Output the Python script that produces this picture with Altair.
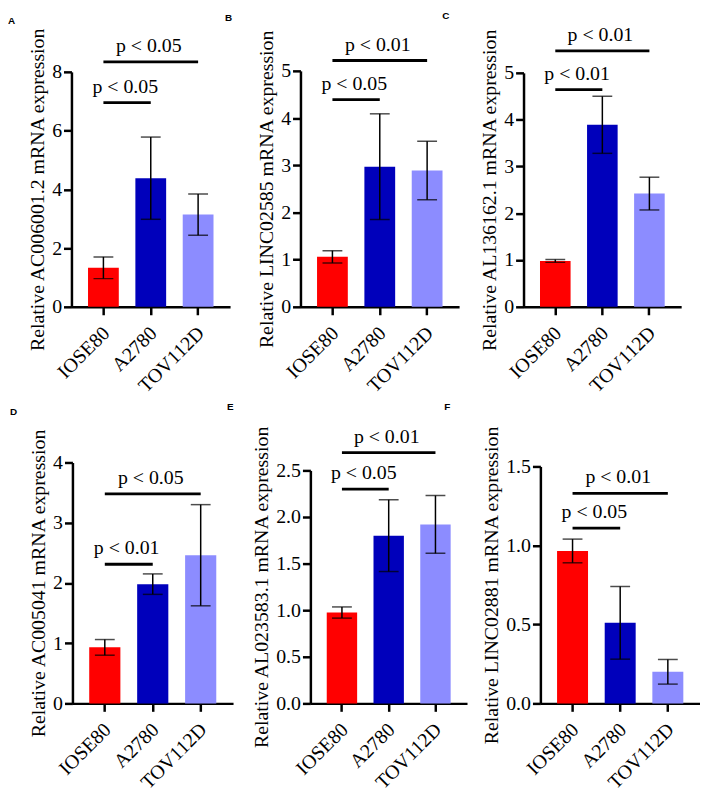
import altair as alt
import pandas as pd

# ---------------- data ----------------
categories = ["IOSE80", "A2780", "TOV112D"]
bar_colors = ["#FF0000", "#0000BB", "#8C8CFF"]

panel_letters = ["A", "B", "C", "D", "E", "F"]
gene_names = ["AC006001.2", "LINC02585", "AL136162.1", "AC005041", "AL023583.1", "LINC02881"]

mean_A = [1.33, 4.38, 3.14]
err_A = [0.37, 1.40, 0.70]
mean_B = [1.06, 2.97, 2.89]
err_B = [0.13, 1.12, 0.62]
mean_C = [0.98, 3.89, 2.42]
err_C = [0.03, 0.61, 0.35]
mean_D = [0.93, 1.98, 2.46]
err_D = [0.13, 0.17, 0.84]
mean_E = [0.975, 1.80, 1.92]
err_E = [0.06, 0.385, 0.31]
mean_F = [0.965, 0.51, 0.20]
err_F = [0.075, 0.23, 0.078]

means = [mean_A, mean_B, mean_C, mean_D, mean_E, mean_F]
errs = [err_A, err_B, err_C, err_D, err_E, err_F]

y_max = [8, 5, 5, 4, 2.5, 1.5]
y_ticks = [
    [0, 2, 4, 6, 8],
    [0, 1, 2, 3, 4, 5],
    [0, 1, 2, 3, 4, 5],
    [0, 1, 2, 3, 4],
    [0, 0.5, 1.0, 1.5, 2.0, 2.5],
    [0, 0.5, 1.0, 1.5],
]
y_formats = ["d", "d", "d", "d", ".1f", ".1f"]

sig_near_y = [6.95, 4.39, 4.64, 2.31, 2.30, 1.11]
sig_far_y = [8.34, 5.22, 5.47, 3.48, 2.69, 1.33]
sig_near_text = ["p < 0.05", "p < 0.05", "p < 0.01", "p < 0.01", "p < 0.05", "p < 0.05"]
sig_far_text = ["p < 0.05", "p < 0.01", "p < 0.01", "p < 0.05", "p < 0.01", "p < 0.01"]

# ---------------- layout (styles) ----------------
SERIF = "Times New Roman, Liberation Serif, serif"
col_widths = [181, 175, 178]
row_heights = [238, 243]
x_ranges = [[0, 160], [0, 160], [0, 159], [1, 163], [10, 168], [17, 178]]
y_axis_offsets = [0, 0, 0, -1, -10, -17]
y_ranges = [[238, 1], [238, 0], [238, 2], [243, 0], [243, 8], [243, 4]]
letter_pos = [(-64, -55), (-76, -58), (-82, -60), (-62, -56), (-74, -61), (-80, -61)]


def make_panel(k):
    mean = means[k]
    err = errs[k]
    df = pd.DataFrame({
        "cell": categories,
        "mean": mean,
        "lo": [m - e for m, e in zip(mean, err)],
        "hi": [m + e for m, e in zip(mean, err)],
    })
    near = pd.DataFrame({"start": [categories[0]], "end": [categories[1]],
                         "level": [sig_near_y[k]], "label": [sig_near_text[k]],
                         "anchor": [categories[0]]})
    far = pd.DataFrame({"start": [categories[0]], "end": [categories[2]],
                        "level": [sig_far_y[k]], "label": [sig_far_text[k]],
                        "anchor": [categories[1]]})

    x_scale = alt.Scale(domain=categories, range=x_ranges[k],
                        paddingInner=0.35, paddingOuter=0.35)
    x_axis = alt.Axis(title=None)
    y_scale = alt.Scale(domain=[0, y_max[k]], range=y_ranges[k], nice=False)
    y_axis = alt.Axis(title=f"Relative {gene_names[k]} mRNA expression",
                      values=y_ticks[k], format=y_formats[k],
                      offset=y_axis_offsets[k])

    def X(f):
        return alt.X(f"{f}:N", scale=x_scale, axis=x_axis)

    def Y(f):
        return alt.Y(f"{f}:Q", scale=y_scale, axis=y_axis)

    base = alt.Chart(df)
    bars = base.mark_bar().encode(
        x=X("cell"), y=Y("mean"),
        color=alt.Color("cell:N", scale=alt.Scale(domain=categories, range=bar_colors), legend=None),
    )
    stem = base.mark_rule(color="black", strokeWidth=1.5).encode(x=X("cell"), y=Y("lo"), y2="hi")
    cap_hi = base.mark_tick(color="black", thickness=1.5, size=20).encode(x=X("cell"), y=Y("hi"))
    cap_lo = base.mark_tick(color="black", thickness=1.5, size=20).encode(x=X("cell"), y=Y("lo"))

    layers = [bars, stem, cap_hi, cap_lo]
    for d, dx in ((near, 22), (far, -2)):
        c = alt.Chart(d)
        layers.append(c.mark_rule(color="black", strokeWidth=2.8).encode(
            x=X("start"), x2="end", y=Y("level")))
        layers.append(c.mark_text(font=SERIF, fontSize=20, color="black", dx=dx, dy=-10,
                                  baseline="alphabetic", align="center").encode(
            x=X("anchor"), y=Y("level"), text="label:N"))

    lx, ly = letter_pos[k]
    letter = alt.Chart(pd.DataFrame({"t": [panel_letters[k]]})).mark_text(
        font="Liberation Sans", fontSize=10, fontWeight="bold", color="black",
        align="left", baseline="top").encode(text="t:N", x=alt.value(lx), y=alt.value(ly))
    layers.append(letter)

    return alt.layer(*layers).properties(width=col_widths[k % 3], height=row_heights[k // 3])


panels = [make_panel(k) for k in range(6)]

chart = alt.concat(
    *panels, columns=3, spacing={"row": 157, "column": 50},
    bounds="flush", align="each",
).properties(padding=0).configure_view(stroke=None).configure_axis(
    grid=False,
    domainColor="black", domainWidth=2.5,
    tickColor="black", tickWidth=2.5, tickSize=8,
    labelColor="black", labelFont=SERIF, labelFontSize=20,
    titleColor="black", titleFont=SERIF, titleFontSize=20, titleFontWeight="normal",
).configure_axisY(labelPadding=2, titlePadding=4).configure_axisX(
    labelAngle=-45, labelPadding=8, labelOffset=-4,
)

chart.save("out.html", embed_options={"renderer": "svg", "actions": False})
